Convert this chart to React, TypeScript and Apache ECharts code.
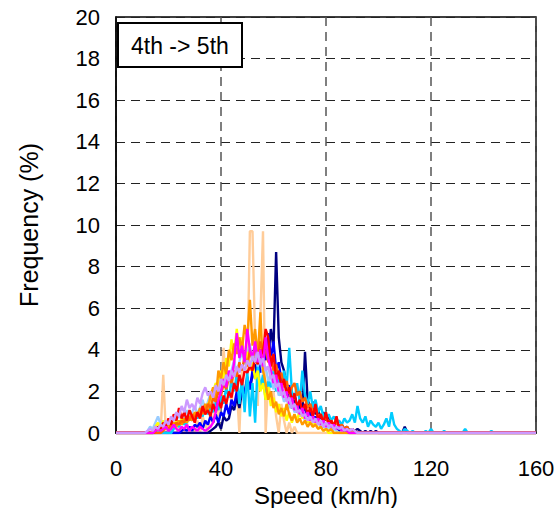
import React, { useEffect, useRef } from "react";
import * as echarts from "echarts";

// Speed bins (km/h), 1 km/h wide, 0..160
const speedMin = 0;
const speedMax = 160;
const xTicks = [0, 40, 80, 120, 160];
const yTicks = [0, 2, 4, 6, 8, 10, 12, 14, 16, 18, 20];

// Each series: first speed bin with data + frequency values (%)
const peachStart = 15;
const peach = [0, 0, 0, 2.8, 0, 0, 0.3, 0, 0, 0.4, 0, 0, 0.5, 0, 0.3, 0, 0.6, 0, 0.8, 0.4, 0, 1.0, 0.5, 1.4, 0.8, 1.8, 4.1, 2.0, 3.0, 1.2, 3.6, 2.2, 0, 3.2, 1.6, 2.8, 9.7, 9.7, 4.4, 1.3, 5.5, 9.7, 0, 2.6, 1.5, 2.0, 0.8, 0, 1.4, 0.6, 0, 0.5, 0, 0.3, 0];

const navyStart = 36;
const navy = [0.1, 0.2, 0.3, 0.5, 0.2, 0.8, 0.6, 0.7, 1.3, 1.1, 1.7, 1.2, 2.0, 1.9, 2.5, 2.1, 2.8, 3.3, 2.6, 3.7, 3.1, 4.5, 3.7, 5.0, 4.1, 8.7, 4.6, 3.4, 3.0, 2.2, 1.5, 1.2, 1.8, 1.0, 1.4, 0.9, 3.9, 1.6, 1.2, 1.5, 0.9, 1.1, 0.7, 1.0, 0.6, 0.8, 0.5, 0.4, 0.6, 0.3, 0.4, 0.2, 0.3, 0.1, 0.2, 0.1, 0.2, 0.1, 0, 0.1, 0, 0.1, 0, 0.1, 0, 0, 0, 0, 0, 0, 0, 0, 0, 0, 0.3, 0];

const blueStart = 25;
const blue = [0.1, 0.2, 0.1, 0.3, 0.1, 0.4, 0.3, 0.5, 0.2, 0.6, 0.4, 0.8, 0.5, 0.9, 0.5, 1.0, 0.8, 1.4, 0.9, 1.6, 1.3, 2.0, 1.5, 2.2, 1.9, 2.7, 2.1, 3.0, 2.6, 3.5, 2.9, 4.0, 3.5, 4.8, 3.6, 4.4, 3.0, 3.4, 2.5, 2.8, 2.0, 2.3, 1.6, 1.9, 1.3, 1.5, 1.0, 1.2, 0.8, 1.0, 0.6, 0.8, 0.5, 0.6, 0.3, 0.5, 0.3, 0.4, 0.2, 0.3, 0.1, 0.2, 0.1, 0];

const cyanStart = 22;
const cyan = [0.2, 0.4, 0.3, 0.6, 0.4, 0.5, 0.8, 0.6, 0.9, 0.7, 1.0, 0.8, 1.2, 0.9, 1.3, 1.0, 1.5, 1.1, 1.8, 1.4, 2.2, 1.7, 2.5, 2.0, 2.8, 1.4, 2.6, 1.0, 3.0, 0.8, 2.4, 0.5, 3.3, 2.1, 2.8, 1.6, 2.5, 2.2, 3.0, 2.0, 2.6, 1.8, 3.0, 2.2, 4.1, 2.0, 1.6, 2.4, 1.5, 3.0, 1.8, 1.4, 2.0, 1.2, 1.6, 1.0, 1.3, 0.8, 0.7, 0.9, 0.6, 0.8, 0.5, 0.6, 0.4, 0.7, 0.5, 0.6, 0.9, 0.5, 1.3, 0.7, 0.5, 0.8, 0.3, 0.6, 0.4, 0.3, 0.5, 0.2, 0.4, 0.7, 0.3, 1.0, 0.4, 0.2, 0.1, 0, 0.2, 0.1, 0, 0.1, 0, 0, 0, 0, 0.1, 0, 0.2, 0, 0, 0, 0, 0.1, 0, 0, 0, 0, 0, 0, 0, 0.2, 0, 0, 0, 0, 0, 0, 0, 0, 0, 0.1, 0];

const lightBlueStart = 12;
const lightBlue = [0.1, 0.3, 0.2, 0.5, 0.8, 0.4, 0.6, 0.3, 0.5, 0.7, 0.4, 0.6, 0.9, 0.6, 0.8, 1.1, 0.7, 1.0, 1.3, 0.9, 1.2, 1.6, 1.1, 1.5, 1.9, 1.4, 1.8, 2.3, 1.9, 2.4, 2.9, 2.4, 3.0, 3.5, 2.8, 3.4, 4.0, 3.3, 3.8, 4.3, 3.4, 3.9, 3.2, 3.6, 2.9, 3.2, 2.5, 2.8, 2.1, 2.4, 1.8, 2.0, 1.5, 1.7, 1.2, 1.4, 1.0, 1.1, 0.8, 0.9, 0.6, 0.7, 0.5, 0.6, 0.4, 0.5, 0.3, 0.4, 0.2, 0.3, 0.1, 0.2, 0.1, 0];

const yellowStart = 14;
const yellow = [0.1, 0.3, 0.5, 0.2, 0.6, 0.3, 0.5, 0.4, 0.3, 0.6, 0.4, 0.7, 0.5, 0.8, 0.6, 0.9, 0.7, 1.0, 0.8, 1.2, 1.0, 1.4, 1.6, 2.0, 2.4, 2.2, 3.0, 2.6, 3.6, 3.2, 4.5, 3.8, 5.0, 4.0, 4.6, 3.4, 3.9, 3.0, 3.4, 2.6, 3.0, 2.0, 2.4, 1.6, 2.2, 1.3, 1.7, 1.0, 1.4, 0.8, 1.2, 0.6, 1.0, 0.5, 0.9, 0.6, 1.1, 0.7, 0.9, 0.5, 0.7, 0.3, 0.5, 0.2, 0.3, 0.1, 0.2, 0];

const orangeStart = 15;
const orange = [0.1, 0.2, 0.1, 0.3, 0.2, 0.4, 0.3, 0.5, 0.3, 0.6, 0.4, 0.7, 0.5, 0.8, 0.6, 1.0, 0.8, 1.2, 0.9, 1.4, 1.1, 1.8, 2.2, 1.6, 3.0, 2.6, 3.4, 2.8, 4.0, 3.5, 4.3, 3.8, 4.6, 4.0, 5.2, 4.5, 6.4, 4.2, 5.0, 3.6, 5.8, 3.0, 2.4, 1.6, 2.0, 1.2, 1.5, 0.9, 1.2, 0.8, 1.4, 0.9, 0.6, 0.9, 0.5, 0.7, 0.4, 0.6, 0.3, 0.5, 0.3, 0.4, 0.2, 0.3, 0.1, 0.2, 0.1, 0.2, 0];

const darkOrangeStart = 18;
const darkOrange = [0.1, 0.3, 0.2, 0.4, 0.3, 0.5, 0.4, 0.6, 0.5, 0.8, 0.6, 0.9, 0.7, 1.0, 0.8, 1.2, 1.0, 1.4, 1.2, 1.7, 1.5, 2.0, 1.8, 2.4, 2.1, 2.7, 2.4, 3.0, 2.7, 3.4, 3.0, 3.7, 3.2, 4.0, 3.5, 4.2, 3.7, 4.4, 3.8, 4.0, 3.4, 3.7, 3.0, 3.3, 2.6, 2.9, 2.2, 2.5, 1.9, 2.2, 2.4, 1.8, 2.0, 1.5, 1.7, 1.2, 1.4, 1.0, 1.2, 0.8, 0.9, 0.6, 0.7, 0.5, 0.6, 0.4, 0.5, 0.3, 0.4, 0.2, 0.3, 0.1, 0.2, 0.1, 0];

const redStart = 15;
const red = [0.1, 0.3, 0.2, 0.5, 0.3, 0.7, 0.4, 0.9, 0.6, 1.2, 0.7, 1.0, 0.6, 1.1, 0.8, 0.5, 1.0, 0.7, 1.3, 0.9, 1.1, 0.8, 1.4, 1.0, 1.6, 1.2, 1.8, 1.4, 2.0, 1.7, 2.4, 2.0, 2.8, 2.3, 3.0, 2.9, 3.2, 3.0, 3.6, 3.3, 4.0, 3.8, 5.0, 4.6, 3.2, 3.8, 2.6, 3.0, 2.2, 2.6, 1.8, 2.2, 1.5, 1.9, 1.2, 1.6, 1.0, 1.4, 0.9, 1.2, 0.8, 1.4, 0.6, 0.9, 0.5, 1.0, 0.4, 0.6, 0.3, 0.8, 0.2, 0.3, 0.1, 0.2, 0];

const magentaStart = 15;
const magenta = [0.1, 0.2, 0.1, 0.2, 0.3, 0.1, 0.2, 0.4, 0.2, 0.1, 0.3, 0.2, 0.4, 0.1, 0.3, 0.2, 0.1, 0.3, 0.2, 0.1, 0.2, 0.3, 0.5, 1.0, 1.6, 2.0, 2.6, 2.2, 3.0, 2.6, 3.4, 4.8, 3.6, 4.2, 3.4, 5.0, 4.0, 3.6, 4.4, 3.4, 4.0, 3.2, 4.6, 3.6, 3.0, 2.4, 2.8, 2.0, 2.4, 1.7, 2.0, 1.4, 1.7, 1.1, 1.3, 0.9, 1.2, 0.7, 1.0, 0.6, 0.8, 0.5, 0.7, 0.4, 0.6, 0.3, 0.5, 0.3, 0.4, 0.2, 0.3, 0.1, 0.2, 0.1, 0];

const lavenderStart = 12;
const lavender = [0.1, 0.2, 0.1, 0.3, 0.2, 0.4, 0.3, 0.6, 0.4, 0.8, 0.6, 1.0, 0.8, 1.3, 1.0, 1.6, 1.2, 1.4, 1.1, 1.7, 1.4, 1.9, 2.2, 1.8, 2.0, 1.7, 2.3, 2.0, 2.6, 2.3, 2.8, 2.5, 3.0, 2.7, 3.2, 2.9, 3.3, 3.0, 3.5, 3.2, 3.7, 3.4, 3.9, 3.3, 3.6, 3.0, 3.2, 2.6, 2.8, 2.2, 2.4, 1.8, 2.0, 1.5, 1.7, 1.2, 1.4, 1.0, 1.1, 0.8, 0.9, 0.6, 0.8, 0.5, 0.7, 0.4, 0.6, 0.3, 0.5, 0.3, 0.4, 0.2, 0.3, 0.2, 0.3, 0.1, 0.2, 0.1, 0.2, 0.1, 0];

const seriesDefs = [
  { name: "peach", color: "#FFCC99", start: peachStart, values: peach },
  { name: "navy", color: "#000080", start: navyStart, values: navy },
  { name: "blue", color: "#0000FF", start: blueStart, values: blue },
  { name: "cyan", color: "#00CCFF", start: cyanStart, values: cyan },
  { name: "lightBlue", color: "#99CCFF", start: lightBlueStart, values: lightBlue },
  { name: "yellow", color: "#FFFF00", start: yellowStart, values: yellow },
  { name: "orange", color: "#FF9900", start: orangeStart, values: orange },
  { name: "darkOrange", color: "#FF6600", start: darkOrangeStart, values: darkOrange },
  { name: "red", color: "#FF0000", start: redStart, values: red },
  { name: "magenta", color: "#FF00FF", start: magentaStart, values: magenta },
  { name: "lavender", color: "#CC99FF", start: lavenderStart, values: lavender },
];

function toPairs(start: number, values: number[]): [number, number][] {
  const out: [number, number][] = [];
  for (let s = speedMin; s <= speedMax; s++) {
    const i = s - start;
    out.push([s, i >= 0 && i < values.length ? values[i] : 0]);
  }
  return out;
}

const FONT = "'Liberation Sans', Arial, sans-serif";

export default function App() {
  const ref = useRef<HTMLDivElement>(null);
  useEffect(() => {
    if (!ref.current) return;
    const chart = echarts.init(ref.current, undefined, { renderer: "svg" });
    const grid = { left: 116, right: 19, top: 17, bottom: 75 };
    chart.setOption({
      animation: false,
      backgroundColor: "#ffffff",
      grid: {
        ...grid,
        outerBoundsMode: "none",
        containLabel: false,
        show: true,
        borderColor: "#000",
        borderWidth: 1.5,
        backgroundColor: "transparent",
      },
      xAxis: {
        type: "value",
        min: xTicks[0],
        max: xTicks[xTicks.length - 1],
        interval: 40,
        name: "Speed (km/h)",
        nameLocation: "middle",
        nameGap: 44,
        nameTextStyle: { fontFamily: FONT, fontSize: 24, color: "#000", lineHeight: 24 },
        axisLine: { show: true, lineStyle: { color: "#000", width: 1.5 } },
        axisTick: { show: false },
        axisLabel: { fontFamily: FONT, fontSize: 22, color: "#000", margin: 24 },
        splitLine: { show: true, lineStyle: { color: "#555", type: [9, 6], width: 1.5 } },
      },
      yAxis: {
        type: "value",
        min: yTicks[0],
        max: yTicks[yTicks.length - 1],
        interval: 2,
        name: "Frequency (%)",
        nameLocation: "middle",
        nameGap: 75,
        nameTextStyle: { fontFamily: FONT, fontSize: 25, color: "#000" },
        axisLine: { show: true, lineStyle: { color: "#000", width: 1.5 } },
        axisTick: { show: false },
        axisLabel: { fontFamily: FONT, fontSize: 22, color: "#000", margin: 16 },
        splitLine: { show: true, lineStyle: { color: "#222", type: [9, 6], width: 1.2 } },
      },
      series: seriesDefs.map((d) => ({
        name: d.name,
        type: "line",
        data: toPairs(d.start, d.values),
        symbol: "none",
        lineStyle: { color: d.color, width: 2.4 },
        itemStyle: { color: d.color },
      })),
      graphic: [
        {
          type: "rect",
          shape: { x: 118, y: 23, width: 124, height: 44 },
          style: { fill: "#fff", stroke: "#000", lineWidth: 2 },
          z: 100,
        },
        {
          type: "text",
          x: 131,
          y: 46,
          style: { text: "4th -> 5th", fontFamily: FONT, fontSize: 23, fill: "#000", verticalAlign: "middle" },
          z: 101,
        },
      ],
    });
    return () => chart.dispose();
  }, []);
  return <div ref={ref} style={{ position: "absolute", left: 0, top: 0, width: 555, height: 508 }} />;
}
